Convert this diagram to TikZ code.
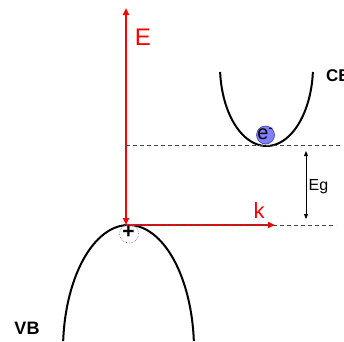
\documentclass[tikz,border=0pt]{standalone}
\usepackage{fontspec}
\setmainfont{Liberation Sans}
\usetikzlibrary{arrows.meta}
\definecolor{axisred}{RGB}{255,0,0}
\definecolor{dashgray}{RGB}{70,70,70}
\definecolor{elfill}{RGB}{128,128,250}
\definecolor{eldraw}{RGB}{60,60,170}
\definecolor{holeblue}{RGB}{110,110,190}
\tikzset{
  axisline/.style={draw=axisred, line width=1.8pt},
  redtip/.style={-{Triangle[length=7pt,width=6pt]}},
  levelline/.style={draw=dashgray, line width=1pt, dash pattern=on 4pt off 3pt},
  bandline/.style={draw=black, line width=2pt},
  redlabel/.style={text=axisred, inner sep=0pt},
  bandlabel/.style={font=\bfseries\fontsize{17}{17}\selectfont, inner sep=0pt},
  gaparrow/.style={draw=black, line width=0.8pt, {Triangle[length=5pt,width=4pt]}-{Triangle[length=5pt,width=4pt]}},
  electron/.style={circle, fill=elfill, draw=eldraw, line width=0.6pt, minimum size=18pt, inner sep=0pt},
  hole/.style={circle, draw=holeblue, densely dotted, line width=0.6pt, minimum size=19pt, inner sep=0pt}
}
\begin{document}
\begin{tikzpicture}[x=1pt,y=-1pt]
\useasboundingbox (0,0) rectangle (344,341);
% coordinates
\coordinate (O) at (126,225);
\coordinate (Etop) at (126,8);
\coordinate (ktip) at (275,225);
\coordinate (d1a) at (126,145);
\coordinate (d1b) at (340,145);
\coordinate (d2a) at (126,225);
\coordinate (d2b) at (336,225);
\coordinate (g1) at (306,151);
\coordinate (g2) at (306,219);
% bands
\draw[bandline] plot[domain=4.3:175.7, samples=80, smooth] ({266.5+46.5*cos(\x)},{66+80*sin(\x)});
\draw[bandline] plot[domain=184.1:355.9, samples=80, smooth] ({128.5+65.5*cos(\x)},{350+125*sin(\x)});
% axes
\draw[axisline, {Triangle[length=7pt,width=6pt]}-{Triangle[length=7pt,width=6pt]}] (O) -- (Etop);
\draw[axisline, redtip] (O) -- (ktip);
% levels
\draw[levelline] (d1a) -- (d1b);
\draw[levelline] (d2a) -- (d2b);
\draw[gaparrow] (g1) -- (g2);
% carriers
\node[electron] (el) at (265.5,135) {};
\node[inner sep=0pt, font=\fontsize{20}{20}\selectfont] (eltext) at (265.5,134) {e\textsuperscript{-}};
\node[hole] (h) at (129,233.5) {};
\node[inner sep=0pt, font=\bfseries\fontsize{21}{21}\selectfont] (htext) at (128.5,232) {+};
% labels
\node[redlabel, font=\fontsize{24}{24}\selectfont] (Elab) at (143,37) {E};
\node[redlabel, font=\fontsize{22}{22}\selectfont] (klab) at (259,211) {k};
\node[bandlabel, anchor=west] (CB) at (326,76) {CB};
\node[bandlabel, font=\bfseries\fontsize{18}{18}\selectfont] (VB) at (27,328) {VB};
\node[inner sep=0pt, font=\fontsize{16}{16}\selectfont] (Eg) at (318.5,187) {Eg};
\end{tikzpicture}
\end{document}
